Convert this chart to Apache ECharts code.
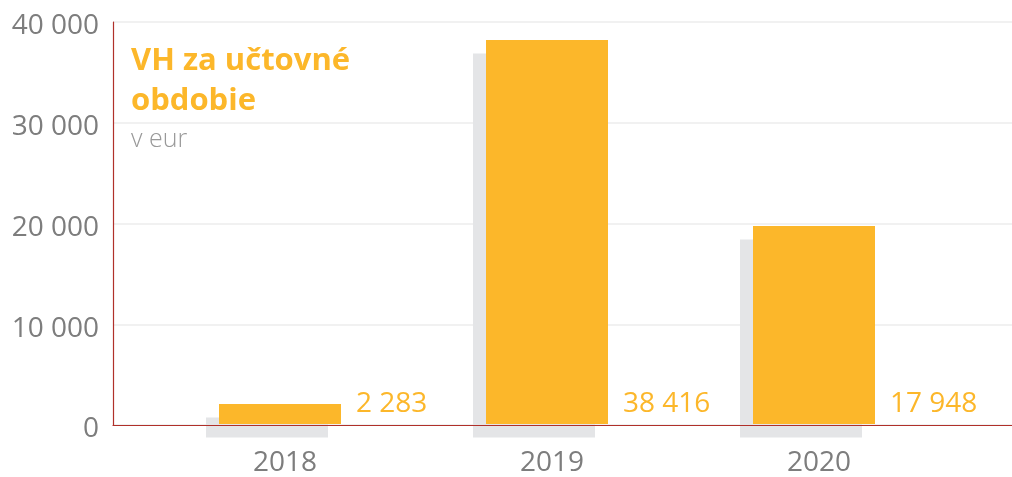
<!DOCTYPE html>
<html>
<head>
<meta charset="utf-8">
<script src="https://cdn.jsdelivr.net/npm/echarts@6/dist/echarts.min.js"></script>
<style>
  html, body { margin: 0; padding: 0; background: #fff; }
  #chart { width: 1012px; height: 477px; }
</style>
</head>
<body>
<div id="chart"></div>
<script>
// data
var years = ['2018', '2019', '2020'];
var barValues = [2000, 38200, 19700];      // bar heights as drawn
var labelValues = [2283, 38416, 17948];    // printed values
var yTicks = [0, 10000, 20000, 30000, 40000];

var orange = '#fcb72a';
var axisRed = '#b0302a';
var greyText = '#7d7d7d';
var font = '"Open Sans", sans-serif';

function fmt(v) {
  return String(v).replace(/\B(?=(\d{3})+(?!\d))/g, ' ');
}

var chart = echarts.init(document.getElementById('chart'));

var option = {
  animation: false,
  backgroundColor: '#fff',
  title: {
    text: 'VH za učtovné\nobdobie',
    subtext: 'v eur',
    left: 126,
    top: 36,
    itemGap: 6,
    textStyle: {
      color: orange,
      fontFamily: font,
      fontWeight: 700,
      fontSize: 31,
      lineHeight: 40
    },
    subtextStyle: {
      color: '#999',
      fontFamily: font,
      fontWeight: 300,
      fontSize: 25
    }
  },
  grid: [
    { left: 113, right: 0, top: 22, bottom: 52 },
    { left: 146.5, right: 64.5, top: 22, bottom: 52 }
  ],
  xAxis: [
    {
      gridIndex: 0,
      type: 'value',
      min: 0,
      max: 1,
      z: 5,
      axisLine: { show: true, onZero: false, lineStyle: { color: axisRed, width: 1.2 } },
      axisTick: { show: false },
      axisLabel: { show: false },
      splitLine: { show: false }
    },
    {
      gridIndex: 1,
      type: 'category',
      data: years,
      axisLine: { show: false },
      axisTick: { show: false },
      axisLabel: {
        color: greyText,
        fontFamily: font,
        fontSize: 28,
        margin: 25,
        padding: [0, 0, 0, 10]
      }
    }
  ],
  yAxis: [
    {
      gridIndex: 0,
      type: 'value',
      min: yTicks[0],
      max: yTicks[yTicks.length - 1],
      interval: 10000,
      axisLine: { show: true, lineStyle: { color: axisRed, width: 1.2 } },
      axisTick: { show: false },
      axisLabel: {
        color: greyText,
        fontFamily: font,
        fontSize: 28,
        margin: 14,
        formatter: function (v) { return '{a|' + fmt(v) + '}'; },
        rich: {
          a: { color: greyText, fontFamily: font, fontSize: 28, padding: [9, 0, 0, 0] }
        }
      },
      splitLine: { lineStyle: { color: '#ececec', width: 1.5 } }
    },
    {
      gridIndex: 1,
      type: 'value',
      min: 0,
      max: 40000,
      show: false
    }
  ],
  series: [{
    type: 'bar',
    xAxisIndex: 1,
    yAxisIndex: 1,
    barWidth: 122,
    data: barValues,
    itemStyle: {
      color: orange,
      shadowColor: '#e4e5e7',
      shadowBlur: 0,
      shadowOffsetX: -13,
      shadowOffsetY: 13.5
    },
    emphasis: { disabled: true },
    label: {
      show: true,
      position: ['100%', '100%'],
      align: 'left',
      verticalAlign: 'middle',
      offset: [15, -20],
      color: orange,
      fontFamily: font,
      fontSize: 28,
      formatter: function (p) { return fmt(labelValues[p.dataIndex]); }
    }
  }]
};

chart.setOption(option);
</script>
</body>
</html>
